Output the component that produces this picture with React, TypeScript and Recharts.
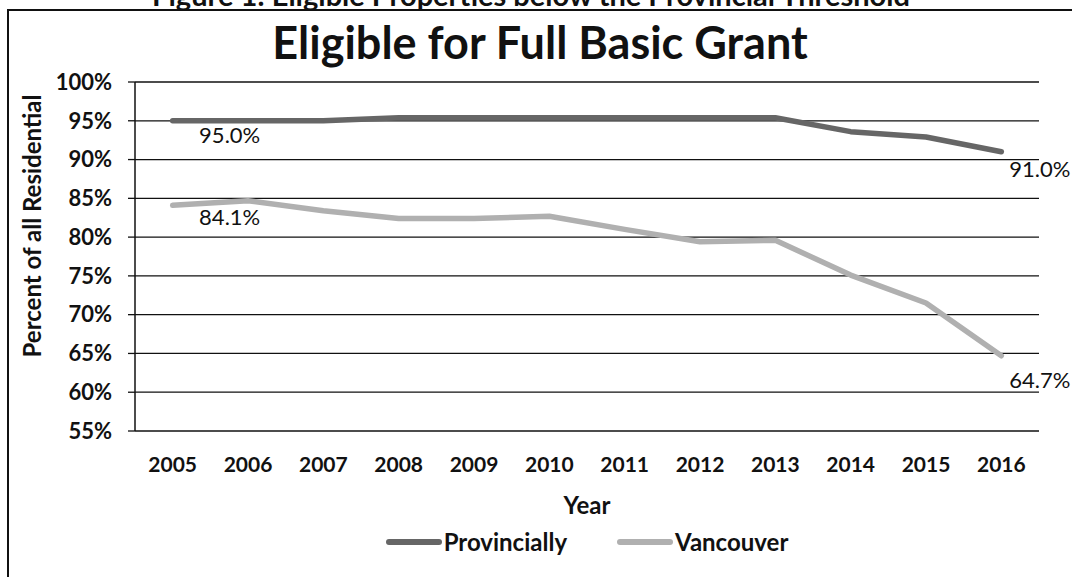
import { CartesianGrid, LabelList, Legend, Line, LineChart, XAxis, YAxis } from "recharts";

const years = [2005, 2006, 2007, 2008, 2009, 2010, 2011, 2012, 2013, 2014, 2015, 2016];
const provincially = [95.0, 95.0, 95.0, 95.4, 95.4, 95.4, 95.4, 95.4, 95.4, 93.6, 92.9, 91.0];
const vancouver = [84.1, 84.7, 83.4, 82.4, 82.4, 82.7, 81.0, 79.4, 79.6, 75.1, 71.5, 64.7];
const yTicks = [55, 60, 65, 70, 75, 80, 85, 90, 95, 100];
const yearEdges = [
  2004.5, 2005.5, 2006.5, 2007.5, 2008.5, 2009.5, 2010.5, 2011.5, 2012.5, 2013.5, 2014.5,
  2015.5, 2016.5,
];

const data = years.map((year, i) => ({
  year,
  provincially: provincially[i],
  vancouver: vancouver[i],
}));

const FONT = "Lato, 'Open Sans', sans-serif";
const INK = "#111";
const PROV = "#666666";
const VAN = "#b0b0b0";

// Excel puts the first label below-right of the point and the last to its right
function endLabel(firstDy: number, lastDy: number) {
  return (props: any) => {
    const { x, y, value, index } = props;
    if (index !== 0 && index !== years.length - 1) return null;
    const first = index === 0;
    return (
      <text
        x={first ? x + 57 : x + 8}
        y={y + (first ? firstDy : lastDy)}
        textAnchor={first ? "middle" : "start"}
        fontSize={22}
        fontFamily={FONT}
        fill={INK}
      >
        {`${Number(value).toFixed(1)}%`}
      </text>
    );
  };
}

function LegendContent() {
  const items = [
    { name: "Provincially", color: PROV },
    { name: "Vancouver", color: VAN },
  ];
  return (
    <div style={{ display: "flex", justifyContent: "center", gap: 50, fontFamily: FONT }}>
      {items.map((it) => (
        <div key={it.name} style={{ display: "flex", alignItems: "center" }}>
          <div style={{ width: 56, height: 6, background: it.color, borderRadius: 3 }} />
          <span style={{ fontSize: 24, fontWeight: 700, color: INK, marginLeft: 2 }}>
            {it.name}
          </span>
        </div>
      ))}
    </div>
  );
}

export default function App() {
  return (
    <div
      style={{
        position: "absolute",
        left: 0,
        top: 0,
        width: 1072,
        height: 577,
        overflow: "hidden",
        background: "#fff",
        fontFamily: FONT,
      }}
    >
      <div
        style={{
          position: "absolute",
          left: 0,
          width: 1062,
          top: -23,
          textAlign: "center",
          fontSize: 29,
          fontWeight: 700,
          color: INK,
          whiteSpace: "nowrap",
        }}
      >
        Figure 1: Eligible Properties below the Provincial Threshold
      </div>
      <div
        style={{
          position: "absolute",
          left: 7,
          top: 9,
          width: 1100,
          height: 620,
          border: `2px solid ${INK}`,
        }}
      />
      <div
        style={{
          position: "absolute",
          left: 0,
          width: 1080,
          top: 15,
          textAlign: "center",
          fontSize: 45,
          fontWeight: 700,
          color: INK,
          whiteSpace: "nowrap",
        }}
      >
        Eligible for Full Basic Grant
      </div>
      <div
        style={{
          position: "absolute",
          left: 31,
          top: 226,
          transform: "translate(-50%, -50%) rotate(-90deg)",
          fontSize: 24,
          fontWeight: 700,
          color: INK,
          whiteSpace: "nowrap",
        }}
      >
        Percent of all Residential
      </div>
      <div style={{ position: "absolute", left: 0, top: 0 }}>
        <LineChart
          width={1072}
          height={577}
          data={data}
          margin={{ top: 82, right: 33, bottom: 63, left: 0 }}
        >
          <CartesianGrid vertical={false} stroke={INK} strokeWidth={1.3} />
          <XAxis
            xAxisId="edges"
            type="number"
            dataKey="year"
            domain={[2004.5, 2016.5]}
            ticks={yearEdges}
            tick={false}
            tickSize={8}
            tickLine={{ stroke: INK, strokeWidth: 1.3 }}
            axisLine={{ stroke: INK, strokeWidth: 1.3 }}
            height={0}
          />
          <XAxis
            xAxisId="years"
            type="number"
            dataKey="year"
            domain={[2004.5, 2016.5]}
            ticks={years}
            interval={0}
            tickLine={false}
            axisLine={false}
            tickSize={0}
            tickMargin={26}
            tick={{ fontSize: 21, fontWeight: 700, fill: INK, fontFamily: FONT }}
            height={83}
            label={{
              value: "Year",
              position: "insideBottom",
              offset: 0,
              fontSize: 24,
              fontWeight: 700,
              fill: INK,
              fontFamily: FONT,
            }}
          />
          <YAxis
            domain={[55, 100]}
            ticks={yTicks}
            interval={0}
            tickFormatter={(v) => `${v}%`}
            width={135}
            tickSize={7}
            tickMargin={16}
            tickLine={{ stroke: INK, strokeWidth: 1.3 }}
            axisLine={{ stroke: INK, strokeWidth: 1.5 }}
            tick={{ fontSize: 22, fontWeight: 700, fill: INK, fontFamily: FONT }}
          />
          <Legend
            layout="horizontal"
            verticalAlign="middle"
            wrapperStyle={{ top: 527, left: 135, width: 904 }}
            content={() => <LegendContent />}
          />
          <Line
            xAxisId="years"
            type="linear"
            dataKey="provincially"
            name="Provincially"
            stroke={PROV}
            strokeWidth={5.5}
            strokeLinecap="round"
            strokeLinejoin="round"
            dot={false}
            activeDot={false}
            isAnimationActive={false}
          >
            <LabelList dataKey="provincially" content={endLabel(22, 25)} />
          </Line>
          <Line
            xAxisId="years"
            type="linear"
            dataKey="vancouver"
            name="Vancouver"
            stroke={VAN}
            strokeWidth={5.5}
            strokeLinecap="round"
            strokeLinejoin="round"
            dot={false}
            activeDot={false}
            isAnimationActive={false}
          >
            <LabelList dataKey="vancouver" content={endLabel(20, 32)} />
          </Line>
        </LineChart>
      </div>
    </div>
  );
}
